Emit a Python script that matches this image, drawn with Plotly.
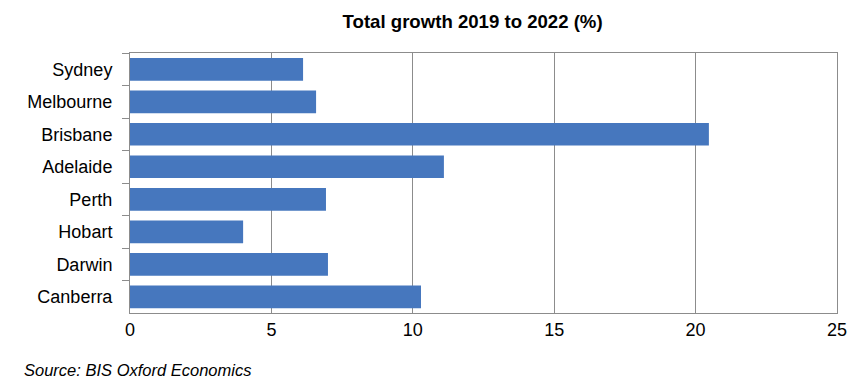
import plotly.graph_objects as go

cities = ["Sydney", "Melbourne", "Brisbane", "Adelaide", "Perth", "Hobart", "Darwin", "Canberra"]
growth = [6.12, 6.58, 20.47, 11.1, 6.93, 4.0, 7.0, 10.29]
x_ticks = [0, 5, 10, 15, 20, 25]

grey = "#8c8c8c"
font_family = "Liberation Sans, Arial, sans-serif"

fig = go.Figure(
    go.Bar(
        x=growth,
        y=cities,
        orientation="h",
        marker=dict(color="#4677be", line=dict(width=0)),
        hoverinfo="skip",
    )
)

fig.update_layout(
    width=864,
    height=382,
    margin=dict(l=130, r=27, t=53, b=69),
    paper_bgcolor="white",
    plot_bgcolor="white",
    bargap=0.3,
    showlegend=False,
    font=dict(family=font_family, size=18, color="black"),
    title=dict(
        text="<b>Total growth 2019 to 2022 (%)</b>",
        font=dict(family=font_family, size=18.6, color="black"),
        x=0.547,
        xanchor="center",
        y=1 - 21.7 / 382,
        yanchor="middle",
        xref="container",
        yref="container",
    ),
    xaxis=dict(
        range=[0, 25],
        tickvals=x_ticks,
        ticks="",
        showgrid=True,
        gridcolor=grey,
        gridwidth=1,
        showline=True,
        linecolor=grey,
        linewidth=1,
        mirror=True,
        zeroline=False,
        ticklabelstandoff=0,
        tickfont=dict(size=18),
        fixedrange=True,
    ),
    yaxis=dict(
        autorange="reversed",
        tickson="boundaries",
        ticks="outside",
        ticklen=7,
        tickcolor=grey,
        showgrid=False,
        showline=True,
        linecolor=grey,
        linewidth=1,
        mirror=True,
        ticklabelstandoff=13,
        tickfont=dict(size=18),
        fixedrange=True,
    ),
    annotations=[
        dict(
            text="<i>Source: BIS Oxford Economics</i>",
            xref="paper",
            yref="paper",
            x=(22 - 130) / 707,
            y=(313 - 370) / 260,
            xanchor="left",
            yanchor="middle",
            showarrow=False,
            font=dict(family=font_family, size=16.5, color="black"),
        )
    ],
)

fig.write_html(
    "out.html",
    config={"displayModeBar": False, "staticPlot": True},
    post_script="document.body.style.margin='0';document.body.style.overflow='hidden';",
)
